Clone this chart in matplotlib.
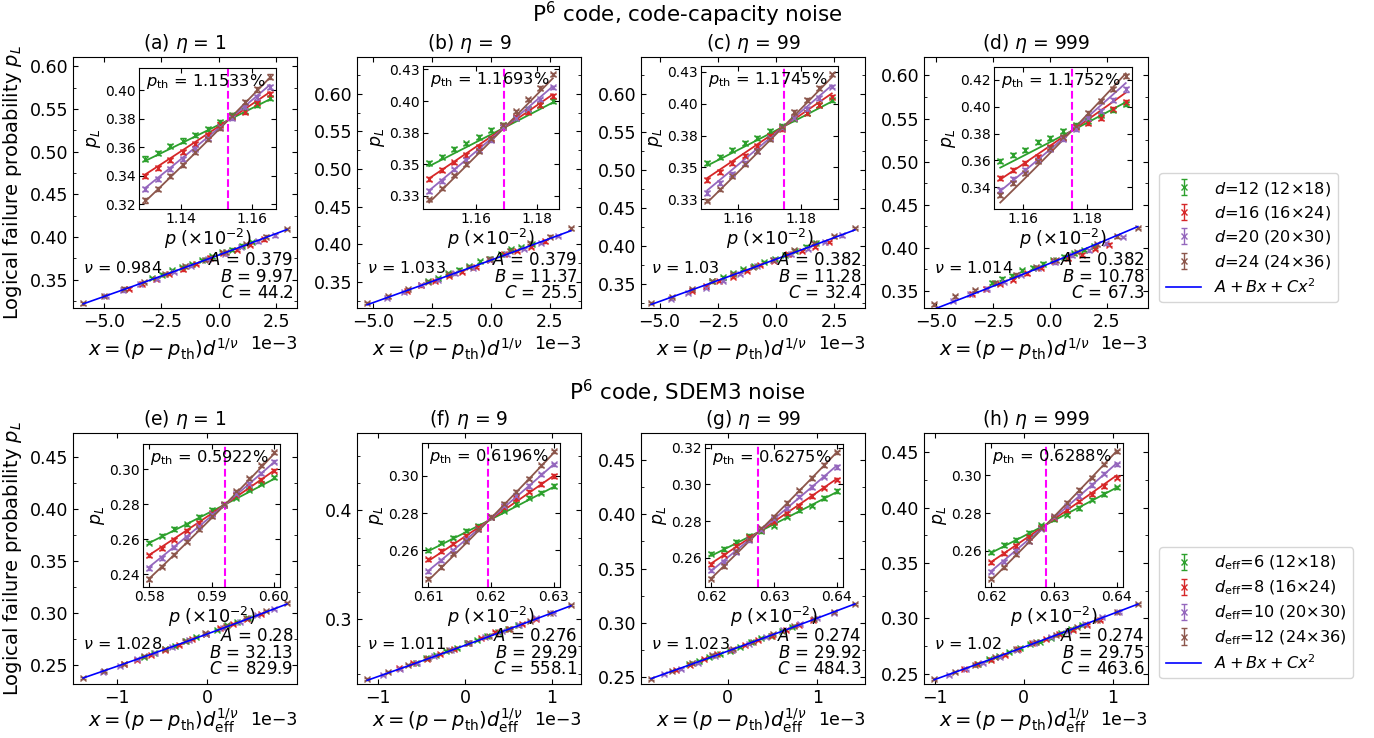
import numpy as np
import matplotlib
matplotlib.use('Agg')
import matplotlib.pyplot as plt
from matplotlib.ticker import MultipleLocator, FixedLocator, FixedFormatter

plt.rcParams['xtick.direction'] = 'in'
plt.rcParams['ytick.direction'] = 'in'
plt.rcParams['xtick.top'] = True
plt.rcParams['ytick.right'] = True
plt.rcParams['mathtext.fontset'] = 'dejavusans'

colors = ['tab:green', 'tab:red', 'tab:purple', 'tab:brown']
tags = ['a', 'b', 'c', 'd', 'e', 'f', 'g', 'h']
etas = [1, 9, 99, 999, 1, 9, 99, 999]

dist_cc = [12, 16, 20, 24]          # code-capacity: d
dist_sdem = [6, 8, 10, 12]          # SDEM3: d_eff
lattices = ['12×18', '16×24', '20×30', '24×36']

# physical error rates (x1e-2)
p_a = [1.13, 1.1335, 1.137, 1.1405, 1.144, 1.1475, 1.151, 1.1545, 1.158, 1.1615, 1.165]
p_b = [1.145, 1.149, 1.153, 1.157, 1.161, 1.165, 1.169, 1.173, 1.177, 1.181, 1.185]
p_c = [1.15, 1.154, 1.158, 1.162, 1.166, 1.17, 1.174, 1.178, 1.182, 1.186, 1.19]
p_d = [1.153, 1.1569, 1.1608, 1.1647, 1.1686, 1.1725, 1.1764, 1.1803, 1.1842, 1.1881, 1.192]
p_e = [0.58, 0.582, 0.584, 0.586, 0.588, 0.59, 0.592, 0.594, 0.596, 0.598, 0.60]
p_f = [0.61, 0.612, 0.614, 0.616, 0.618, 0.62, 0.622, 0.624, 0.626, 0.628, 0.63]
p_g = [0.62, 0.622, 0.624, 0.626, 0.628, 0.63, 0.632, 0.634, 0.636, 0.638, 0.64]
p_h = [0.62, 0.622, 0.624, 0.626, 0.628, 0.63, 0.632, 0.634, 0.636, 0.638, 0.64]

# logical failure probabilities, one row per distance
pL_a = [[0.352, 0.356, 0.361, 0.3646, 0.3687, 0.373, 0.3775, 0.3826, 0.3853, 0.390, 0.3944],
        [0.3398, 0.3455, 0.351, 0.3567, 0.3624, 0.3687, 0.3759, 0.3815, 0.3849, 0.3912, 0.3973],
        [0.3308, 0.3376, 0.3448, 0.3515, 0.359, 0.3664, 0.3741, 0.3808, 0.3883, 0.395, 0.4022],
        [0.3225, 0.3308, 0.3398, 0.3477, 0.3567, 0.3657, 0.3736, 0.3822, 0.392, 0.4006, 0.4097]]
pL_b = [[0.351, 0.3557, 0.3619, 0.3665, 0.3716, 0.3773, 0.3812, 0.3866, 0.3936, 0.3969, 0.400],
        [0.3381, 0.3454, 0.3515, 0.3575, 0.3639, 0.3704, 0.3794, 0.3876, 0.391, 0.3969, 0.4039],
        [0.3291, 0.3369, 0.3459, 0.3531, 0.3613, 0.3691, 0.3794, 0.3866, 0.3936, 0.4013, 0.4108],
        [0.3222, 0.3309, 0.3412, 0.3505, 0.3608, 0.3704, 0.3812, 0.3918, 0.4013, 0.4103, 0.4211]]
pL_c = [[0.3533, 0.358, 0.3639, 0.3693, 0.3729, 0.3786, 0.3827, 0.3876, 0.3925, 0.3987, 0.4031],
        [0.340, 0.3464, 0.3536, 0.3593, 0.367, 0.3747, 0.3799, 0.3884, 0.3928, 0.3987, 0.4049],
        [0.3302, 0.3379, 0.3446, 0.3534, 0.3626, 0.3729, 0.3812, 0.3884, 0.3961, 0.4044, 0.4134],
        [0.324, 0.3327, 0.3433, 0.3528, 0.3626, 0.3719, 0.3817, 0.3936, 0.4031, 0.4121, 0.4229]]
pL_d = [[0.3596, 0.3643, 0.3677, 0.3737, 0.3769, 0.3816, 0.386, 0.3896, 0.3935, 0.3975, 0.4021],
        [0.3467, 0.3527, 0.3578, 0.3629, 0.3703, 0.3767, 0.3848, 0.3878, 0.3919, 0.3985, 0.4035],
        [0.3382, 0.3463, 0.3527, 0.3601, 0.3682, 0.3763, 0.3832, 0.3912, 0.397, 0.4051, 0.4127],
        [0.3343, 0.3435, 0.3509, 0.3596, 0.3689, 0.3774, 0.3855, 0.3952, 0.4039, 0.4131, 0.4228]]
pL_e = [[0.258, 0.2621, 0.2659, 0.2687, 0.2728, 0.2768, 0.2799, 0.2837, 0.2884, 0.2918, 0.2955],
        [0.2509, 0.255, 0.2599, 0.2649, 0.2696, 0.2752, 0.2799, 0.2856, 0.2899, 0.294, 0.2993],
        [0.2434, 0.2494, 0.2556, 0.2612, 0.2674, 0.2743, 0.2799, 0.2861, 0.2918, 0.2978, 0.3043],
        [0.2374, 0.2443, 0.2512, 0.2587, 0.2659, 0.2734, 0.2805, 0.2874, 0.2949, 0.3024, 0.3099]]
pL_f = [[0.26, 0.2641, 0.2668, 0.2707, 0.2733, 0.2778, 0.2813, 0.2849, 0.2884, 0.2911, 0.2947],
        [0.2552, 0.2596, 0.2636, 0.268, 0.2724, 0.2778, 0.2831, 0.2879, 0.2915, 0.2956, 0.300],
        [0.2488, 0.2547, 0.26, 0.2659, 0.2716, 0.2778, 0.284, 0.2893, 0.2947, 0.3009, 0.3062],
        [0.2449, 0.2511, 0.2582, 0.2648, 0.2716, 0.2781, 0.2849, 0.2915, 0.2986, 0.3057, 0.3133]]
pL_g = [[0.2623, 0.2649, 0.2688, 0.2719, 0.2744, 0.2775, 0.2825, 0.286, 0.2884, 0.2925, 0.2963],
        [0.2565, 0.2618, 0.2667, 0.2714, 0.2749, 0.2796, 0.2842, 0.2884, 0.2937, 0.2982, 0.3025],
        [0.2533, 0.2579, 0.2632, 0.2696, 0.2754, 0.2811, 0.287, 0.2933, 0.2986, 0.3042, 0.3095],
        [0.2486, 0.2556, 0.2635, 0.2702, 0.2761, 0.2825, 0.2898, 0.2968, 0.3035, 0.3105, 0.3175]]
pL_h = [[0.2591, 0.2631, 0.2657, 0.2696, 0.2734, 0.2769, 0.2791, 0.2826, 0.287, 0.2901, 0.2936],
        [0.2539, 0.2586, 0.2626, 0.2673, 0.2722, 0.2774, 0.2817, 0.2861, 0.2899, 0.2943, 0.2988],
        [0.249, 0.2543, 0.26, 0.2652, 0.2717, 0.2779, 0.2835, 0.289, 0.2948, 0.3009, 0.3057],
        [0.2452, 0.2513, 0.2583, 0.2652, 0.2722, 0.2783, 0.2852, 0.2922, 0.2988, 0.3057, 0.3127]]

p_all = [p_a, p_b, p_c, p_d, p_e, p_f, p_g, p_h]
pL_all = [pL_a, pL_b, pL_c, pL_d, pL_e, pL_f, pL_g, pL_h]

# fit results
pth_vals = [1.1533, 1.1693, 1.1745, 1.1752, 0.5922, 0.6196, 0.6275, 0.6288]
nu_vals = [0.984, 1.033, 1.03, 1.014, 1.028, 1.011, 1.023, 1.02]
A_vals = [0.379, 0.379, 0.382, 0.382, 0.28, 0.276, 0.274, 0.274]
B_vals = [9.97, 11.37, 11.28, 10.78, 32.13, 29.29, 29.92, 29.75]
C_vals = [44.2, 25.5, 32.4, 67.3, 829.9, 558.1, 484.3, 463.6]
err_top = 0.0015
err_bot = 0.0009

# inset ticks
in_xticks = [[1.14, 1.16], [1.16, 1.18], [1.16, 1.18], [1.16, 1.18],
             [0.58, 0.59, 0.60], [0.61, 0.62, 0.63], [0.62, 0.63, 0.64], [0.62, 0.63, 0.64]]
in_yticks = [[0.32, 0.34, 0.36, 0.38, 0.40], [0.325, 0.35, 0.375, 0.40, 0.425],
             [0.325, 0.35, 0.375, 0.40, 0.425], [0.34, 0.36, 0.38, 0.40, 0.42],
             [0.24, 0.26, 0.28, 0.30], [0.26, 0.28, 0.30], [0.26, 0.28, 0.30, 0.32], [0.26, 0.28, 0.30]]
in_ylabels = [['0.32', '0.34', '0.36', '0.38', '0.40'], ['0.33', '0.35', '0.38', '0.40', '0.43'],
              ['0.33', '0.35', '0.38', '0.40', '0.43'], ['0.34', '0.36', '0.38', '0.40', '0.42'],
              ['0.24', '0.26', '0.28', '0.30'], ['0.26', '0.28', '0.30'],
              ['0.26', '0.28', '0.30', '0.32'], ['0.26', '0.28', '0.30']]

W, H = 1374, 738
fig = plt.figure(figsize=(W/100, H/100), dpi=100)

def px_rect(l, t, r, b):
    return [l/W, 1 - b/H, (r - l)/W, (b - t)/H]

main_left = [73, 357, 641, 924]
main_top = [57, 433]
main_ylims = [(0.317, 0.611), (0.3155, 0.6487), (0.3178, 0.6485), (0.3301, 0.6214),
              (0.2318, 0.4734), (0.2405, 0.4712), (0.2439, 0.4745), (0.2407, 0.4675)]
inset_px = [(139, 68, 276, 209), (423, 66, 559, 209), (701, 66, 838, 209), (994, 67, 1132, 209),
            (143, 444, 280, 587), (422, 443, 560, 587), (705, 444, 843, 587), (985, 443, 1123, 587)]

def fit(x, A, B, C):
    return A + B*x + C*x**2

for k in range(8):
    row = k // 4
    col = k % 4
    l = main_left[col]
    t = main_top[row]
    ax = fig.add_axes(px_rect(l, t, l + 224, t + 251))
    axi = fig.add_axes(px_rect(*inset_px[k]))
    dists = dist_cc if row == 0 else dist_sdem
    err = err_top if row == 0 else err_bot
    pth, nu = pth_vals[k], nu_vals[k]
    A, B, C = A_vals[k], B_vals[k], C_vals[k]
    p = np.array(p_all[k])
    xmin, xmax = 0, 0
    for j, d in enumerate(dists):
        if row == 0:
            lab = r'$d$=%d (%s)' % (d, lattices[j])
        else:
            lab = r'$d_{\rm eff}$=%d (%s)' % (d, lattices[j])
        scale = d ** (1/nu)
        x = (p - pth) * 1e-2 * scale
        xmin, xmax = min(xmin, x.min()), max(xmax, x.max())
        ax.errorbar(x, pL_all[k][j], yerr=err, fmt='x', color=colors[j], ms=5, mew=1,
                    elinewidth=1, capsize=2, label=lab)
        axi.errorbar(p, pL_all[k][j], yerr=err, fmt='x', color=colors[j], ms=5, mew=1,
                     elinewidth=1, capsize=2)
        pp = np.linspace(p[0], p[-1], 100)
        axi.plot(pp, fit((pp - pth) * 1e-2 * scale, A, B, C), color=colors[j], lw=1.3)
    xx = np.linspace(xmin, xmax, 200)
    ax.plot(xx, fit(xx, A, B, C), color='blue', lw=1.2, zorder=3, label=r'$A+Bx+Cx^2$')
    axi.axvline(pth, color='magenta', ls='--', lw=1.5)

    # main axes styling
    ax.set_ylim(main_ylims[k])
    ax.yaxis.set_major_locator(MultipleLocator(0.1 if k == 5 else 0.05))
    ax.yaxis.set_minor_locator(MultipleLocator(0.025))
    ax.xaxis.set_major_locator(MultipleLocator(2.5e-3 if row == 0 else 1e-3))
    ax.ticklabel_format(axis='x', style='sci', scilimits=(0, 0))
    ax.tick_params(which='both', direction='in', top=True, right=True, labelsize=12.5)
    ax.xaxis.get_offset_text().set_fontsize(12.5)
    ax.set_title(r'(%s) $\eta$ = %d' % (tags[k], etas[k]), fontsize=13.5)
    if row == 0:
        ax.set_xlabel(r'$x = (p - p_{\rm th})d^{1/\nu}$', fontsize=14)
    else:
        ax.set_xlabel(r'$x = (p - p_{\rm th})d_{\rm eff}^{1/\nu}$', fontsize=14, labelpad=0)
    ax.xaxis.label.set_x(0.405)
    if col == 0:
        ax.set_ylabel(r'Logical failure probability $p_L$', fontsize=14)
    ax.text(0.045, 0.16, r'$\nu$ = %s' % nu, transform=ax.transAxes, fontsize=11.5, va='center')
    ax.text(0.985, 0.022, '$A$ = %s\n$B$ = %s\n$C$ = %s' % (A, B, C), transform=ax.transAxes,
            fontsize=12, ha='right', va='bottom', linespacing=0.92)

    # inset styling
    axi.xaxis.set_major_locator(FixedLocator(in_xticks[k]))
    axi.xaxis.set_major_formatter(FixedFormatter(['%.2f' % v for v in in_xticks[k]]))
    axi.yaxis.set_major_locator(FixedLocator(in_yticks[k]))
    axi.yaxis.set_major_formatter(FixedFormatter(in_ylabels[k]))
    axi.tick_params(direction='in', top=True, right=True, labelsize=10, pad=2.5)
    axi.set_xlabel(r'$p$ ($\times10^{-2}$)', fontsize=12.8, labelpad=0.5)
    axi.set_ylabel(r'$p_L$', fontsize=12.5, labelpad=1)
    axi.text(0.05, 0.97, r'$p_{\rm th}$ = %s%%' % pth, transform=axi.transAxes,
             fontsize=11.7, va='top', ha='left')

    if col == 3:
        handles, labels = ax.get_legend_handles_labels()
        order = [1, 2, 3, 4, 0]
        ax.legend([handles[i] for i in order], [labels[i] for i in order],
                  loc='lower left', bbox_to_anchor=(1.015, -0.01), fontsize=11.6,
                  labelspacing=0.4, handlelength=2.2)

fig.text(0.5, 0.98, 'P$^6$ code, code-capacity noise', ha='center', va='center', fontsize=15.5)
fig.text(0.5, 0.469, 'P$^6$ code, SDEM3 noise', ha='center', va='center', fontsize=15.5)

fig.savefig('out.png', dpi=100)
